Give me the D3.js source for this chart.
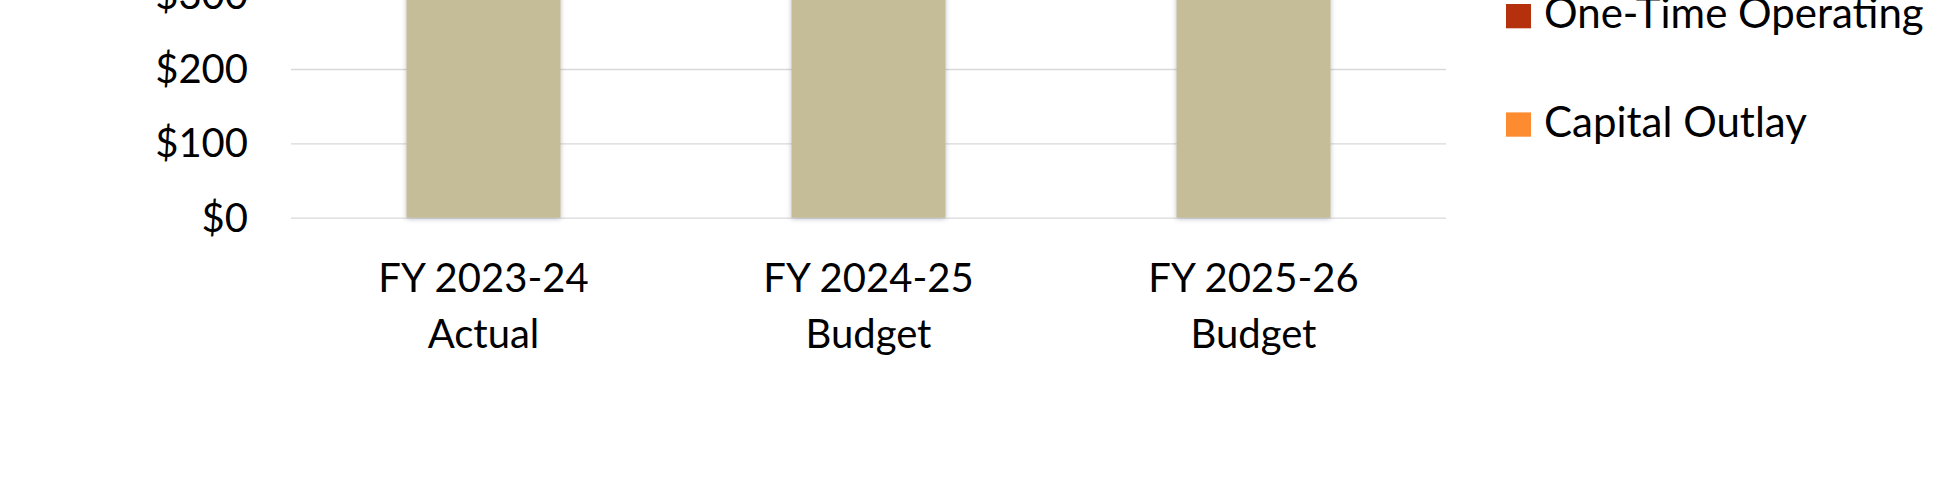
<!DOCTYPE html>
<html>
<head>
<meta charset="utf-8">
<script src="https://cdn.jsdelivr.net/npm/d3@7"></script>
<style>
  html, body { margin: 0; padding: 0; background: #ffffff; overflow: hidden; }
  svg { display: block; font-family: Lato, "Open Sans", sans-serif; }
</style>
</head>
<body>
<svg id="chart" width="1950" height="478"></svg>
<script>
// ---- data (top of the chart is cropped in the reference; tall bars run off the top) ----
const categories = ["FY 2023-24|Actual", "FY 2024-25|Budget", "FY 2025-26|Budget"];
const baseSeries = [460, 475, 490];          // tan series (tops not visible, > ~$292)
const oneTimeOperating = [0, 0, 0];
const capitalOutlay = [0, 0, 0];
const yTicks = [0, 100, 200, 300];
const legendLabels = ["One-Time Operating", "Capital Outlay"];
const legendColors = ["#B5310D", "#FD8B2F"];
const baseColor = "#C4BD97";

const svg = d3.select("#chart");

// layout
const plotLeft = 291, plotRight = 1446;
const y0px = 217.7, pxPer100 = 74.35;

const x = d3.scaleBand()
  .domain(categories)
  .range([plotLeft, plotRight])
  .paddingInner(0.6)
  .paddingOuter(0.3);

const yMax = 500;
const y = d3.scaleLinear()
  .domain([0, yMax])
  .range([y0px, y0px - pxPer100 * yMax / 100]);

// shadow filter
const defs = svg.append("defs");
const f = defs.append("filter").attr("id", "shadow")
  .attr("x", "-10%").attr("y", "-10%").attr("width", "120%").attr("height", "120%");
f.append("feDropShadow").attr("dx", 0).attr("dy", 1).attr("stdDeviation", 2.5)
  .attr("flood-color", "#5a5a78").attr("flood-opacity", 0.4);

// gridlines
svg.append("g")
  .attr("transform", `translate(${plotLeft},0)`)
  .call(d3.axisLeft(y).tickValues(yTicks).tickSize(-(plotRight - plotLeft)).tickFormat(""))
  .call(g => g.select(".domain").remove())
  .call(g => g.selectAll("line").attr("stroke", "#D9D9D9").attr("stroke-width", 1.3));

// y labels
svg.append("g")
  .attr("transform", `translate(${plotLeft},0)`)
  .call(d3.axisLeft(y).tickValues(yTicks).tickSize(0).tickPadding(43).tickFormat(d => "$" + d))
  .call(g => g.select(".domain").remove())
  .call(g => g.selectAll("text")
    .attr("font-family", "Lato, sans-serif")
    .attr("font-size", 40)
    .attr("fill", "#000")
    .attr("dy", "0.34em"));

// stacked bars
const rows = categories.map((c, i) => ({
  cat: c, base: baseSeries[i], oneTime: oneTimeOperating[i], capital: capitalOutlay[i]
}));
const stack = d3.stack().keys(["base", "oneTime", "capital"])(rows);
const colors = { base: baseColor, oneTime: legendColors[0], capital: legendColors[1] };

svg.append("g").selectAll("g")
  .data(stack)
  .join("g")
  .attr("fill", d => colors[d.key])
  .selectAll("rect")
  .data(d => d.filter(s => s[1] > s[0]))
  .join("rect")
  .attr("x", d => x(d.data.cat))
  .attr("width", x.bandwidth())
  .attr("y", d => y(d[1]))
  .attr("height", d => Math.max(0, y(d[0]) - y(d[1])))
  .attr("filter", "url(#shadow)");

// x labels
const xl = svg.append("g");
categories.forEach(c => {
  const [l1, l2] = c.split("|");
  const cx = x(c) + x.bandwidth() / 2;
  xl.append("text").attr("x", cx).attr("y", 292.3).attr("text-anchor", "middle")
    .attr("font-size", 40).attr("fill", "#000").text(l1);
  xl.append("text").attr("x", cx).attr("y", 348.3).attr("text-anchor", "middle")
    .attr("font-size", 40).attr("fill", "#000").text(l2);
});

// legend (upper entries are cropped off the top in the reference)
const lg = svg.append("g");
legendLabels.forEach((lab, i) => {
  const base = 28.3 + i * 108.4;
  lg.append("rect").attr("x", 1506).attr("y", base - 24.3).attr("width", 25).attr("height", 24.3)
    .attr("fill", legendColors[i]);
  lg.append("text").attr("x", 1544).attr("y", base).attr("font-size", 42).attr("fill", "#000").text(lab);
});
</script>
</body>
</html>
